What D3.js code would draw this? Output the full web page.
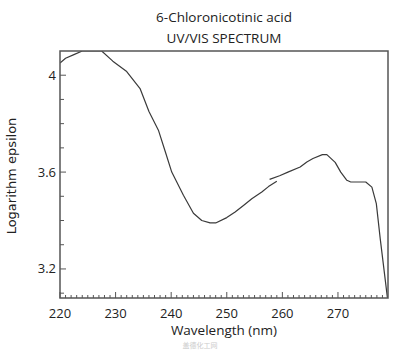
<!DOCTYPE html>
<html>
<head>
<meta charset="utf-8">
<script src="https://cdn.jsdelivr.net/npm/d3@7"></script>
<style>
  body { margin: 0; background: #fff; }
  text { fill: #222; }
</style>
</head>
<body>
<div id="chart"></div>
<script>
// Spectrum data: two measured segments (they overlap near 258 nm)
const wavelengthsA = [220, 221, 222.5, 224, 226, 227.5, 229.5, 232, 234.4, 236, 237.7, 239, 240.1, 242.2, 244, 245.5, 247, 248, 250, 251.5, 253, 254.5, 256.3, 257.5, 259];
const logEpsA      = [4.05, 4.07, 4.085, 4.1, 4.1, 4.1, 4.058, 4.015, 3.945, 3.85, 3.773, 3.68, 3.6, 3.504, 3.43, 3.4, 3.39, 3.39, 3.412, 3.435, 3.462, 3.49, 3.518, 3.54, 3.562];
const wavelengthsB = [257.7, 259.5, 261, 263.2, 264.4, 265.5, 267.2, 268, 269.5, 270.5, 271.6, 272.3, 275, 276.1, 276.9, 277.6, 278.9];
const logEpsB      = [3.57, 3.585, 3.6, 3.621, 3.642, 3.656, 3.672, 3.672, 3.64, 3.6, 3.566, 3.559, 3.559, 3.538, 3.47, 3.325, 3.08];

const xMajor = [220, 230, 240, 250, 260, 270];
const yMajor = [3.2, 3.6, 4.0];

const margin = {top: 51, right: 12, bottom: 53, left: 60},
    width = 400 - margin.left - margin.right,
    height = 351 - margin.top - margin.bottom;

const svg = d3.select("#chart")
  .append("svg")
    .attr("width", 400)
    .attr("height", 351)
  .append("g")
    .attr("transform", `translate(${margin.left}, ${margin.top})`);

const x = d3.scaleLinear().domain([220, 279]).range([0, width]);
const y = d3.scaleLinear().domain([3.08, 4.1]).range([height, 0]);

// Titles
svg.append("text")
    .attr("x", width / 2).attr("y", -29)
    .attr("text-anchor", "middle")
    .style("font-family", "'Open Sans', sans-serif")
    .style("font-size", "13.5px")
    .text("6-Chloronicotinic acid");
svg.append("text")
    .attr("x", width / 2).attr("y", -8)
    .attr("text-anchor", "middle")
    .style("font-family", "'Open Sans', sans-serif")
    .style("font-size", "13.5px")
    .text("UV/VIS SPECTRUM");

// Minor ticks (inside)
const xMinor = d3.range(221, 279).filter(d => d % 10 !== 0);
svg.append("g").selectAll("line").data(xMinor).join("line")
    .attr("x1", d => x(d)).attr("x2", d => x(d))
    .attr("y1", height).attr("y2", height - 3)
    .attr("stroke", "#555").attr("stroke-width", 1);
svg.append("g").selectAll("line").data(xMajor).join("line")
    .attr("x1", d => x(d)).attr("x2", d => x(d))
    .attr("y1", height).attr("y2", height - 6)
    .attr("stroke", "#555").attr("stroke-width", 1);

const yMinor = d3.range(31, 41).map(d => d / 10).filter(d => !yMajor.some(m => Math.abs(m - d) < 1e-6));
svg.append("g").selectAll("line").data(yMinor).join("line")
    .attr("x1", 0).attr("x2", 4)
    .attr("y1", d => y(d)).attr("y2", d => y(d))
    .attr("stroke", "#555").attr("stroke-width", 1);
svg.append("g").selectAll("line").data(yMajor).join("line")
    .attr("x1", 0).attr("x2", 6)
    .attr("y1", d => y(d)).attr("y2", d => y(d))
    .attr("stroke", "#555").attr("stroke-width", 1);

// Tick labels
svg.append("g").selectAll("text").data(xMajor).join("text")
    .attr("x", d => x(d)).attr("y", height + 20)
    .attr("text-anchor", "middle")
    .style("font-family", "'Open Sans', sans-serif")
    .style("font-size", "13px")
    .text(d => d);
svg.append("g").selectAll("text").data(yMajor).join("text")
    .attr("x", -4).attr("y", d => y(d))
    .attr("dy", "0.35em")
    .attr("text-anchor", "end")
    .style("font-family", "'Open Sans', sans-serif")
    .style("font-size", "13px")
    .text(d => d3.format("~g")(d));

// Axis labels
svg.append("text")
    .attr("x", width / 2).attr("y", height + 37)
    .attr("text-anchor", "middle")
    .style("font-family", "'Open Sans', sans-serif")
    .style("font-size", "13.5px")
    .text("Wavelength (nm)");
svg.append("text")
    .attr("transform", "rotate(-90)")
    .attr("x", -(176 - margin.top)).attr("y", -44)
    .attr("text-anchor", "middle")
    .style("font-family", "'DejaVu Sans', sans-serif")
    .style("font-size", "13px")
    .text("Logarithm epsilon");

// watermark
svg.append("text")
    .attr("x", 140).attr("y", height + 50)
    .attr("text-anchor", "middle")
    .style("font-family", "'Noto Sans CJK SC', sans-serif")
    .style("font-size", "7px")
    .style("fill", "#cccccc")
    .text("盖德化工网");

// Clip and curves
svg.append("clipPath").attr("id", "clip")
  .append("rect").attr("width", width).attr("height", height);

const line = d3.line().x(d => x(d[0])).y(d => y(d[1]));
const segA = wavelengthsA.map((w, i) => [w, logEpsA[i]]);
const segB = wavelengthsB.map((w, i) => [w, logEpsB[i]]);

svg.append("g").attr("clip-path", "url(#clip)")
  .selectAll("path").data([segA, segB]).join("path")
    .attr("d", line)
    .attr("fill", "none")
    .attr("stroke", "#3a3a3a")
    .attr("stroke-width", 1.2)
    .attr("stroke-linejoin", "round");

// Frame
svg.append("rect")
    .attr("width", width).attr("height", height)
    .attr("fill", "none")
    .attr("stroke", "#555")
    .attr("stroke-width", 1.5);
</script>
</body>
</html>
